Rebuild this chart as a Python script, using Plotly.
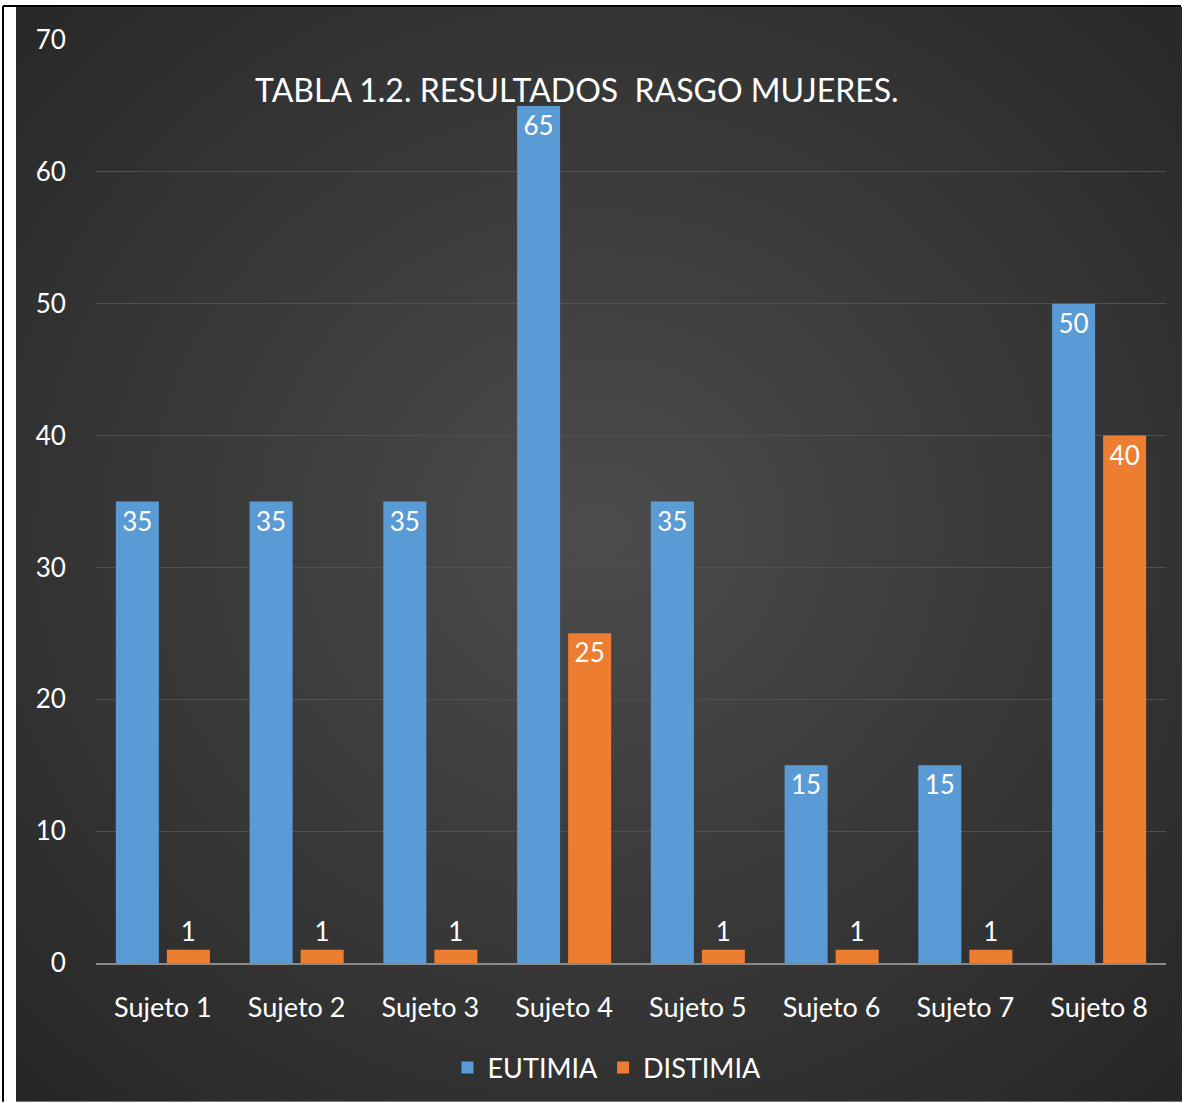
import base64
import plotly.graph_objects as go

categories = ["Sujeto 1", "Sujeto 2", "Sujeto 3", "Sujeto 4", "Sujeto 5", "Sujeto 6", "Sujeto 7", "Sujeto 8"]
eutimia = [35, 35, 35, 65, 35, 15, 15, 50]
distimia = [1, 1, 1, 25, 1, 1, 1, 40]
y_ticks = [0, 10, 20, 30, 40, 50, 60, 70]

W, H = 1185, 1103
L, R, T, B = 96, 19, 40, 139
pw, ph = W - L - R, H - T - B

def px_x(p):
    return (p - L) / pw

def px_y(p):
    return (H - B - p) / ph

FONT = "Lato, 'Open Sans', sans-serif"

svg = """<svg xmlns='http://www.w3.org/2000/svg' width='1166' height='1096' viewBox='0 0 1166 1096' preserveAspectRatio='none'>
<defs><radialGradient id='g' cx='50%' cy='48%' r='72%'>
<stop offset='0%' stop-color='#4c4c4c'/><stop offset='100%' stop-color='#262626'/>
</radialGradient></defs><rect width='1166' height='1096' fill='url(#g)'/></svg>"""
bg_src = "data:image/svg+xml;base64," + base64.b64encode(svg.encode()).decode()

def positions(vals):
    return ["outside" if v < 5 else "inside" for v in vals]

fig = go.Figure()
fig.add_trace(go.Bar(
    name="EUTIMIA", x=categories, y=eutimia, marker=dict(color="#5b9bd5", line=dict(width=0)),
    text=eutimia, textposition=positions(eutimia), insidetextanchor="end",
    textfont=dict(color="white", size=26, family=FONT), cliponaxis=False,
))
fig.add_trace(go.Bar(
    name="DISTIMIA", x=categories, y=distimia, marker=dict(color="#ed7d31", line=dict(width=0)),
    text=distimia, textposition=positions(distimia), insidetextanchor="end",
    textfont=dict(color="white", size=26, family=FONT), cliponaxis=False,
))

fig.update_layout(
    width=W, height=H,
    margin=dict(l=L, r=R, t=T, b=B, pad=0),
    paper_bgcolor="white",
    plot_bgcolor="rgba(0,0,0,0)",
    barmode="group", bargap=0.237, bargroupgap=0.157,
    font=dict(family=FONT, color="white", size=25),
    showlegend=True,
    legend=dict(orientation="h", x=px_x(607), xanchor="center", y=px_y(1068), yanchor="middle",
                font=dict(size=27, color="white", family=FONT), bgcolor="rgba(0,0,0,0)",
                itemsizing="constant", traceorder="normal"),
    images=[dict(source=bg_src, xref="paper", yref="paper", x=px_x(16), y=px_y(7),
                 sizex=px_x(1182) - px_x(16), sizey=px_y(7) - px_y(1103),
                 xanchor="left", yanchor="top", sizing="stretch", layer="below")],
    shapes=[
        dict(type="line", xref="paper", yref="paper", x0=px_x(3), x1=px_x(3), y0=px_y(6), y1=px_y(1103),
             line=dict(color="black", width=2)),
        dict(type="line", xref="paper", yref="paper", x0=px_x(3), x1=px_x(1181), y0=px_y(6), y1=px_y(6),
             line=dict(color="black", width=2)),
    ],
    annotations=[dict(text="TABLA 1.2. RESULTADOS  RASGO MUJERES.", xref="paper", yref="paper",
                      x=px_x(577), y=px_y(90), xanchor="center", yanchor="middle", showarrow=False,
                      font=dict(size=32, color="white", family=FONT))],
)
fig.update_yaxes(range=[0, 70], tickvals=y_ticks, showgrid=True, gridcolor="#505050", gridwidth=1,
                 zeroline=False, showline=False, ticks="outside", ticklen=24, tickcolor="rgba(0,0,0,0)",
                 tickfont=dict(size=26, color="white", family=FONT))
fig.update_xaxes(showline=True, linecolor="#8a8a8a", linewidth=2, showgrid=False,
                 ticks="outside", ticklen=20, tickcolor="rgba(0,0,0,0)",
                 tickfont=dict(size=27, color="white", family=FONT))

fig.write_html("out.html", config={"displayModeBar": False},
               post_script="document.body.style.margin='0';document.body.style.overflow='hidden';")
